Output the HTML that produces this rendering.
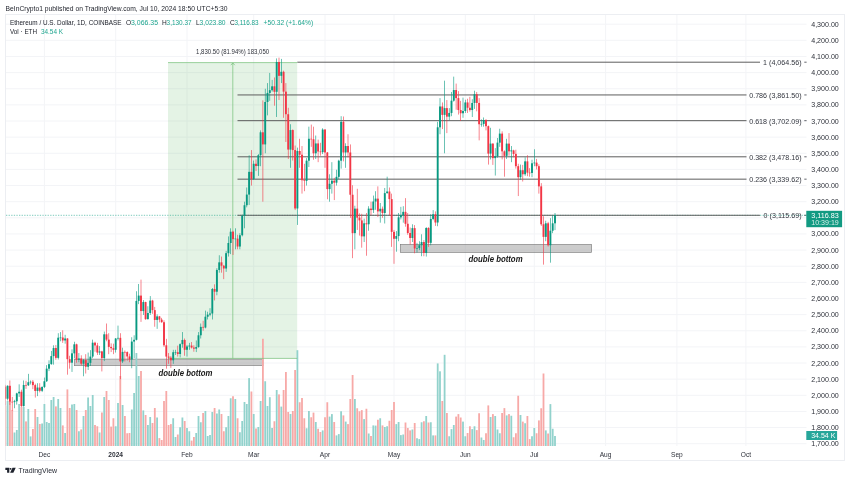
<!DOCTYPE html>
<html><head><meta charset="utf-8"><title>ETHUSD</title>
<style>
html,body{margin:0;padding:0;background:#fff;}
body{width:850px;height:480px;overflow:hidden;position:relative;font-family:"Liberation Sans",sans-serif;}
svg{position:absolute;left:0;top:0;will-change:transform;}
text{font-family:"Liberation Sans",sans-serif;}
</style></head><body>
<svg width="850" height="480" viewBox="0 0 850 480">

<rect x="5.5" y="14.5" width="839" height="446" fill="#fff" stroke="#eceef2" stroke-width="1"/>
<g stroke="#f3f4f7" stroke-width="1">
<line x1="6" y1="443.71" x2="806.5" y2="443.71"/>
<line x1="6" y1="427.57" x2="806.5" y2="427.57"/>
<line x1="6" y1="411.44" x2="806.5" y2="411.44"/>
<line x1="6" y1="395.30" x2="806.5" y2="395.30"/>
<line x1="6" y1="379.17" x2="806.5" y2="379.17"/>
<line x1="6" y1="363.03" x2="806.5" y2="363.03"/>
<line x1="6" y1="346.90" x2="806.5" y2="346.90"/>
<line x1="6" y1="330.76" x2="806.5" y2="330.76"/>
<line x1="6" y1="314.63" x2="806.5" y2="314.63"/>
<line x1="6" y1="298.50" x2="806.5" y2="298.50"/>
<line x1="6" y1="282.36" x2="806.5" y2="282.36"/>
<line x1="6" y1="266.22" x2="806.5" y2="266.22"/>
<line x1="6" y1="250.09" x2="806.5" y2="250.09"/>
<line x1="6" y1="233.95" x2="806.5" y2="233.95"/>
<line x1="6" y1="217.82" x2="806.5" y2="217.82"/>
<line x1="6" y1="201.68" x2="806.5" y2="201.68"/>
<line x1="6" y1="185.55" x2="806.5" y2="185.55"/>
<line x1="6" y1="169.41" x2="806.5" y2="169.41"/>
<line x1="6" y1="153.28" x2="806.5" y2="153.28"/>
<line x1="6" y1="137.14" x2="806.5" y2="137.14"/>
<line x1="6" y1="121.01" x2="806.5" y2="121.01"/>
<line x1="6" y1="104.88" x2="806.5" y2="104.88"/>
<line x1="6" y1="88.74" x2="806.5" y2="88.74"/>
<line x1="6" y1="72.61" x2="806.5" y2="72.61"/>
<line x1="6" y1="56.47" x2="806.5" y2="56.47"/>
<line x1="6" y1="40.33" x2="806.5" y2="40.33"/>
<line x1="6" y1="24.20" x2="806.5" y2="24.20"/>
<line x1="44.40" y1="15" x2="44.40" y2="446"/>
<line x1="115.70" y1="15" x2="115.70" y2="446"/>
<line x1="187.00" y1="15" x2="187.00" y2="446"/>
<line x1="253.70" y1="15" x2="253.70" y2="446"/>
<line x1="325.00" y1="15" x2="325.00" y2="446"/>
<line x1="394.00" y1="15" x2="394.00" y2="446"/>
<line x1="465.30" y1="15" x2="465.30" y2="446"/>
<line x1="534.30" y1="15" x2="534.30" y2="446"/>
<line x1="605.60" y1="15" x2="605.60" y2="446"/>
<line x1="676.90" y1="15" x2="676.90" y2="446"/>
<line x1="745.90" y1="15" x2="745.90" y2="446"/>
</g>
<rect x="168" y="62.6" width="129.2" height="295.8" fill="#4caf50" fill-opacity="0.15"/>
<rect x="74.3" y="359.1" width="188.7" height="6.6" fill="#9a9a9a" fill-opacity="0.5" stroke="#777" stroke-width="0.6"/>
<rect x="400.3" y="244.3" width="191.4" height="8.2" fill="#9a9a9a" fill-opacity="0.5" stroke="#777" stroke-width="0.6"/>
<clipPath id="cp"><rect x="5.5" y="15" width="838.5" height="431"/></clipPath>
<g clip-path="url(#cp)">
<rect x="4.40" y="406.00" width="1.8" height="40.00" fill="#f7a9a7"/>
<rect x="6.70" y="401.00" width="1.8" height="45.00" fill="#92d2cc"/>
<rect x="9.00" y="402.00" width="1.8" height="44.00" fill="#f7a9a7"/>
<rect x="11.30" y="410.00" width="1.8" height="36.00" fill="#f7a9a7"/>
<rect x="13.60" y="432.50" width="1.8" height="13.50" fill="#92d2cc"/>
<rect x="15.90" y="430.00" width="1.8" height="16.00" fill="#92d2cc"/>
<rect x="18.20" y="404.00" width="1.8" height="42.00" fill="#92d2cc"/>
<rect x="20.50" y="407.00" width="1.8" height="39.00" fill="#f7a9a7"/>
<rect x="22.80" y="407.00" width="1.8" height="39.00" fill="#92d2cc"/>
<rect x="25.10" y="421.40" width="1.8" height="24.60" fill="#f7a9a7"/>
<rect x="27.40" y="409.00" width="1.8" height="37.00" fill="#92d2cc"/>
<rect x="29.70" y="436.40" width="1.8" height="9.60" fill="#92d2cc"/>
<rect x="32.00" y="429.00" width="1.8" height="17.00" fill="#f7a9a7"/>
<rect x="34.30" y="409.00" width="1.8" height="37.00" fill="#f7a9a7"/>
<rect x="36.60" y="417.00" width="1.8" height="29.00" fill="#92d2cc"/>
<rect x="38.90" y="424.00" width="1.8" height="22.00" fill="#f7a9a7"/>
<rect x="41.20" y="423.50" width="1.8" height="22.50" fill="#92d2cc"/>
<rect x="43.50" y="404.00" width="1.8" height="42.00" fill="#92d2cc"/>
<rect x="45.80" y="422.00" width="1.8" height="24.00" fill="#92d2cc"/>
<rect x="48.10" y="423.00" width="1.8" height="23.00" fill="#92d2cc"/>
<rect x="50.40" y="400.00" width="1.8" height="46.00" fill="#92d2cc"/>
<rect x="52.70" y="397.00" width="1.8" height="49.00" fill="#92d2cc"/>
<rect x="55.00" y="406.40" width="1.8" height="39.60" fill="#f7a9a7"/>
<rect x="57.30" y="399.00" width="1.8" height="47.00" fill="#92d2cc"/>
<rect x="59.60" y="408.00" width="1.8" height="38.00" fill="#92d2cc"/>
<rect x="61.90" y="425.40" width="1.8" height="20.60" fill="#f7a9a7"/>
<rect x="64.20" y="433.00" width="1.8" height="13.00" fill="#92d2cc"/>
<rect x="66.50" y="389.40" width="1.8" height="56.60" fill="#f7a9a7"/>
<rect x="68.80" y="408.00" width="1.8" height="38.00" fill="#f7a9a7"/>
<rect x="71.10" y="404.50" width="1.8" height="41.50" fill="#92d2cc"/>
<rect x="73.40" y="404.00" width="1.8" height="42.00" fill="#92d2cc"/>
<rect x="75.70" y="410.00" width="1.8" height="36.00" fill="#f7a9a7"/>
<rect x="78.00" y="431.25" width="1.8" height="14.75" fill="#92d2cc"/>
<rect x="80.30" y="429.40" width="1.8" height="16.60" fill="#f7a9a7"/>
<rect x="82.60" y="416.00" width="1.8" height="30.00" fill="#92d2cc"/>
<rect x="84.90" y="410.00" width="1.8" height="36.00" fill="#f7a9a7"/>
<rect x="87.20" y="397.50" width="1.8" height="48.50" fill="#92d2cc"/>
<rect x="89.50" y="406.00" width="1.8" height="40.00" fill="#92d2cc"/>
<rect x="91.80" y="395.00" width="1.8" height="51.00" fill="#92d2cc"/>
<rect x="94.10" y="425.00" width="1.8" height="21.00" fill="#f7a9a7"/>
<rect x="96.40" y="426.25" width="1.8" height="19.75" fill="#f7a9a7"/>
<rect x="98.70" y="432.50" width="1.8" height="13.50" fill="#92d2cc"/>
<rect x="101.00" y="412.50" width="1.8" height="33.50" fill="#f7a9a7"/>
<rect x="103.30" y="397.00" width="1.8" height="49.00" fill="#92d2cc"/>
<rect x="105.60" y="391.00" width="1.8" height="55.00" fill="#f7a9a7"/>
<rect x="107.90" y="400.00" width="1.8" height="46.00" fill="#f7a9a7"/>
<rect x="110.20" y="426.60" width="1.8" height="19.40" fill="#f7a9a7"/>
<rect x="112.50" y="418.25" width="1.8" height="27.75" fill="#f7a9a7"/>
<rect x="114.80" y="426.25" width="1.8" height="19.75" fill="#92d2cc"/>
<rect x="117.10" y="403.00" width="1.8" height="43.00" fill="#92d2cc"/>
<rect x="119.40" y="376.00" width="1.8" height="70.00" fill="#f7a9a7"/>
<rect x="121.70" y="405.00" width="1.8" height="41.00" fill="#92d2cc"/>
<rect x="124.00" y="416.00" width="1.8" height="30.00" fill="#f7a9a7"/>
<rect x="126.30" y="433.25" width="1.8" height="12.75" fill="#f7a9a7"/>
<rect x="128.60" y="433.00" width="1.8" height="13.00" fill="#f7a9a7"/>
<rect x="130.90" y="409.50" width="1.8" height="36.50" fill="#92d2cc"/>
<rect x="133.20" y="393.00" width="1.8" height="53.00" fill="#92d2cc"/>
<rect x="135.50" y="353.00" width="1.8" height="93.00" fill="#92d2cc"/>
<rect x="137.80" y="376.00" width="1.8" height="70.00" fill="#92d2cc"/>
<rect x="140.10" y="371.00" width="1.8" height="75.00" fill="#f7a9a7"/>
<rect x="142.40" y="410.40" width="1.8" height="35.60" fill="#92d2cc"/>
<rect x="144.70" y="415.00" width="1.8" height="31.00" fill="#f7a9a7"/>
<rect x="147.00" y="425.00" width="1.8" height="21.00" fill="#92d2cc"/>
<rect x="149.30" y="417.00" width="1.8" height="29.00" fill="#92d2cc"/>
<rect x="151.60" y="423.00" width="1.8" height="23.00" fill="#f7a9a7"/>
<rect x="153.90" y="408.00" width="1.8" height="38.00" fill="#f7a9a7"/>
<rect x="156.20" y="417.50" width="1.8" height="28.50" fill="#92d2cc"/>
<rect x="158.50" y="438.10" width="1.8" height="7.90" fill="#f7a9a7"/>
<rect x="160.80" y="440.00" width="1.8" height="6.00" fill="#f7a9a7"/>
<rect x="163.10" y="401.00" width="1.8" height="45.00" fill="#f7a9a7"/>
<rect x="165.40" y="391.00" width="1.8" height="55.00" fill="#f7a9a7"/>
<rect x="167.70" y="425.00" width="1.8" height="21.00" fill="#f7a9a7"/>
<rect x="170.00" y="424.10" width="1.8" height="21.90" fill="#f7a9a7"/>
<rect x="172.30" y="418.25" width="1.8" height="27.75" fill="#92d2cc"/>
<rect x="174.60" y="437.00" width="1.8" height="9.00" fill="#92d2cc"/>
<rect x="176.90" y="434.50" width="1.8" height="11.50" fill="#f7a9a7"/>
<rect x="179.20" y="427.25" width="1.8" height="18.75" fill="#92d2cc"/>
<rect x="181.50" y="417.50" width="1.8" height="28.50" fill="#92d2cc"/>
<rect x="183.80" y="421.00" width="1.8" height="25.00" fill="#f7a9a7"/>
<rect x="186.10" y="428.00" width="1.8" height="18.00" fill="#92d2cc"/>
<rect x="188.40" y="431.25" width="1.8" height="14.75" fill="#92d2cc"/>
<rect x="190.70" y="440.60" width="1.8" height="5.40" fill="#f7a9a7"/>
<rect x="193.00" y="437.00" width="1.8" height="9.00" fill="#f7a9a7"/>
<rect x="195.30" y="433.00" width="1.8" height="13.00" fill="#92d2cc"/>
<rect x="197.60" y="416.00" width="1.8" height="30.00" fill="#92d2cc"/>
<rect x="199.90" y="422.25" width="1.8" height="23.75" fill="#92d2cc"/>
<rect x="202.20" y="413.00" width="1.8" height="33.00" fill="#f7a9a7"/>
<rect x="204.50" y="411.00" width="1.8" height="35.00" fill="#92d2cc"/>
<rect x="206.80" y="436.00" width="1.8" height="10.00" fill="#92d2cc"/>
<rect x="209.10" y="435.00" width="1.8" height="11.00" fill="#92d2cc"/>
<rect x="211.40" y="412.00" width="1.8" height="34.00" fill="#92d2cc"/>
<rect x="213.70" y="408.00" width="1.8" height="38.00" fill="#f7a9a7"/>
<rect x="216.00" y="413.50" width="1.8" height="32.50" fill="#92d2cc"/>
<rect x="218.30" y="409.50" width="1.8" height="36.50" fill="#92d2cc"/>
<rect x="220.60" y="414.00" width="1.8" height="32.00" fill="#f7a9a7"/>
<rect x="222.90" y="431.25" width="1.8" height="14.75" fill="#f7a9a7"/>
<rect x="225.20" y="427.25" width="1.8" height="18.75" fill="#92d2cc"/>
<rect x="227.50" y="416.00" width="1.8" height="30.00" fill="#92d2cc"/>
<rect x="229.80" y="398.25" width="1.8" height="47.75" fill="#92d2cc"/>
<rect x="232.10" y="396.25" width="1.8" height="49.75" fill="#f7a9a7"/>
<rect x="234.40" y="399.00" width="1.8" height="47.00" fill="#92d2cc"/>
<rect x="236.70" y="418.25" width="1.8" height="27.75" fill="#f7a9a7"/>
<rect x="239.00" y="432.25" width="1.8" height="13.75" fill="#92d2cc"/>
<rect x="241.30" y="421.00" width="1.8" height="25.00" fill="#92d2cc"/>
<rect x="243.60" y="402.00" width="1.8" height="44.00" fill="#92d2cc"/>
<rect x="245.90" y="404.00" width="1.8" height="42.00" fill="#92d2cc"/>
<rect x="248.20" y="378.10" width="1.8" height="67.90" fill="#92d2cc"/>
<rect x="250.50" y="391.50" width="1.8" height="54.50" fill="#f7a9a7"/>
<rect x="252.80" y="414.00" width="1.8" height="32.00" fill="#92d2cc"/>
<rect x="255.10" y="428.50" width="1.8" height="17.50" fill="#f7a9a7"/>
<rect x="257.40" y="427.00" width="1.8" height="19.00" fill="#92d2cc"/>
<rect x="259.70" y="401.00" width="1.8" height="45.00" fill="#92d2cc"/>
<rect x="262.00" y="338.75" width="1.8" height="107.25" fill="#f7a9a7"/>
<rect x="264.30" y="381.25" width="1.8" height="64.75" fill="#92d2cc"/>
<rect x="266.60" y="406.00" width="1.8" height="40.00" fill="#92d2cc"/>
<rect x="268.90" y="397.20" width="1.8" height="48.80" fill="#92d2cc"/>
<rect x="271.20" y="428.00" width="1.8" height="18.00" fill="#92d2cc"/>
<rect x="273.50" y="421.25" width="1.8" height="24.75" fill="#f7a9a7"/>
<rect x="275.80" y="390.00" width="1.8" height="56.00" fill="#92d2cc"/>
<rect x="278.10" y="394.40" width="1.8" height="51.60" fill="#f7a9a7"/>
<rect x="280.40" y="406.60" width="1.8" height="39.40" fill="#92d2cc"/>
<rect x="282.70" y="390.00" width="1.8" height="56.00" fill="#f7a9a7"/>
<rect x="285.00" y="372.00" width="1.8" height="74.00" fill="#f7a9a7"/>
<rect x="287.30" y="412.00" width="1.8" height="34.00" fill="#f7a9a7"/>
<rect x="289.60" y="414.00" width="1.8" height="32.00" fill="#92d2cc"/>
<rect x="291.90" y="411.00" width="1.8" height="35.00" fill="#f7a9a7"/>
<rect x="294.20" y="370.00" width="1.8" height="76.00" fill="#f7a9a7"/>
<rect x="296.50" y="350.20" width="1.8" height="95.80" fill="#92d2cc"/>
<rect x="298.80" y="402.25" width="1.8" height="43.75" fill="#f7a9a7"/>
<rect x="301.10" y="398.00" width="1.8" height="48.00" fill="#f7a9a7"/>
<rect x="303.40" y="418.25" width="1.8" height="27.75" fill="#f7a9a7"/>
<rect x="305.70" y="428.25" width="1.8" height="17.75" fill="#92d2cc"/>
<rect x="308.00" y="411.00" width="1.8" height="35.00" fill="#92d2cc"/>
<rect x="310.30" y="417.25" width="1.8" height="28.75" fill="#f7a9a7"/>
<rect x="312.60" y="412.60" width="1.8" height="33.40" fill="#f7a9a7"/>
<rect x="314.90" y="422.00" width="1.8" height="24.00" fill="#92d2cc"/>
<rect x="317.20" y="428.75" width="1.8" height="17.25" fill="#f7a9a7"/>
<rect x="319.50" y="432.00" width="1.8" height="14.00" fill="#f7a9a7"/>
<rect x="321.80" y="430.40" width="1.8" height="15.60" fill="#92d2cc"/>
<rect x="324.10" y="417.25" width="1.8" height="28.75" fill="#f7a9a7"/>
<rect x="326.40" y="402.25" width="1.8" height="43.75" fill="#f7a9a7"/>
<rect x="328.70" y="416.60" width="1.8" height="29.40" fill="#92d2cc"/>
<rect x="331.00" y="414.10" width="1.8" height="31.90" fill="#92d2cc"/>
<rect x="333.30" y="422.00" width="1.8" height="24.00" fill="#f7a9a7"/>
<rect x="335.60" y="435.40" width="1.8" height="10.60" fill="#92d2cc"/>
<rect x="337.90" y="434.10" width="1.8" height="11.90" fill="#92d2cc"/>
<rect x="340.20" y="411.25" width="1.8" height="34.75" fill="#92d2cc"/>
<rect x="342.50" y="415.40" width="1.8" height="30.60" fill="#f7a9a7"/>
<rect x="344.80" y="421.60" width="1.8" height="24.40" fill="#92d2cc"/>
<rect x="347.10" y="424.10" width="1.8" height="21.90" fill="#f7a9a7"/>
<rect x="349.40" y="399.00" width="1.8" height="47.00" fill="#f7a9a7"/>
<rect x="351.70" y="375.00" width="1.8" height="71.00" fill="#f7a9a7"/>
<rect x="354.00" y="399.00" width="1.8" height="47.00" fill="#92d2cc"/>
<rect x="356.30" y="408.25" width="1.8" height="37.75" fill="#f7a9a7"/>
<rect x="358.60" y="411.25" width="1.8" height="34.75" fill="#f7a9a7"/>
<rect x="360.90" y="410.10" width="1.8" height="35.90" fill="#f7a9a7"/>
<rect x="363.20" y="419.10" width="1.8" height="26.90" fill="#92d2cc"/>
<rect x="365.50" y="408.75" width="1.8" height="37.25" fill="#f7a9a7"/>
<rect x="367.80" y="433.50" width="1.8" height="12.50" fill="#92d2cc"/>
<rect x="370.10" y="436.00" width="1.8" height="10.00" fill="#f7a9a7"/>
<rect x="372.40" y="425.40" width="1.8" height="20.60" fill="#92d2cc"/>
<rect x="374.70" y="425.60" width="1.8" height="20.40" fill="#92d2cc"/>
<rect x="377.00" y="419.75" width="1.8" height="26.25" fill="#f7a9a7"/>
<rect x="379.30" y="418.25" width="1.8" height="27.75" fill="#92d2cc"/>
<rect x="381.60" y="425.40" width="1.8" height="20.60" fill="#f7a9a7"/>
<rect x="383.90" y="427.00" width="1.8" height="19.00" fill="#92d2cc"/>
<rect x="386.20" y="426.25" width="1.8" height="19.75" fill="#92d2cc"/>
<rect x="388.50" y="420.75" width="1.8" height="25.25" fill="#f7a9a7"/>
<rect x="390.80" y="410.00" width="1.8" height="36.00" fill="#f7a9a7"/>
<rect x="393.10" y="402.00" width="1.8" height="44.00" fill="#f7a9a7"/>
<rect x="395.40" y="424.10" width="1.8" height="21.90" fill="#92d2cc"/>
<rect x="397.70" y="422.00" width="1.8" height="24.00" fill="#92d2cc"/>
<rect x="400.00" y="435.10" width="1.8" height="10.90" fill="#92d2cc"/>
<rect x="402.30" y="434.50" width="1.8" height="11.50" fill="#92d2cc"/>
<rect x="404.60" y="422.50" width="1.8" height="23.50" fill="#f7a9a7"/>
<rect x="406.90" y="428.00" width="1.8" height="18.00" fill="#f7a9a7"/>
<rect x="409.20" y="430.40" width="1.8" height="15.60" fill="#f7a9a7"/>
<rect x="411.50" y="429.50" width="1.8" height="16.50" fill="#92d2cc"/>
<rect x="413.80" y="423.00" width="1.8" height="23.00" fill="#f7a9a7"/>
<rect x="416.10" y="438.25" width="1.8" height="7.75" fill="#92d2cc"/>
<rect x="418.40" y="439.10" width="1.8" height="6.90" fill="#92d2cc"/>
<rect x="420.70" y="422.25" width="1.8" height="23.75" fill="#92d2cc"/>
<rect x="423.00" y="421.25" width="1.8" height="24.75" fill="#f7a9a7"/>
<rect x="425.30" y="416.00" width="1.8" height="30.00" fill="#92d2cc"/>
<rect x="427.60" y="422.50" width="1.8" height="23.50" fill="#f7a9a7"/>
<rect x="429.90" y="422.25" width="1.8" height="23.75" fill="#92d2cc"/>
<rect x="432.20" y="435.40" width="1.8" height="10.60" fill="#92d2cc"/>
<rect x="434.50" y="435.40" width="1.8" height="10.60" fill="#f7a9a7"/>
<rect x="436.80" y="363.40" width="1.8" height="82.60" fill="#92d2cc"/>
<rect x="439.10" y="371.30" width="1.8" height="74.70" fill="#92d2cc"/>
<rect x="441.40" y="401.00" width="1.8" height="45.00" fill="#f7a9a7"/>
<rect x="443.70" y="354.80" width="1.8" height="91.20" fill="#92d2cc"/>
<rect x="446.00" y="413.00" width="1.8" height="33.00" fill="#f7a9a7"/>
<rect x="448.30" y="436.25" width="1.8" height="9.75" fill="#92d2cc"/>
<rect x="450.60" y="429.10" width="1.8" height="16.90" fill="#92d2cc"/>
<rect x="452.90" y="425.00" width="1.8" height="21.00" fill="#92d2cc"/>
<rect x="455.20" y="416.60" width="1.8" height="29.40" fill="#f7a9a7"/>
<rect x="457.50" y="414.10" width="1.8" height="31.90" fill="#f7a9a7"/>
<rect x="459.80" y="417.50" width="1.8" height="28.50" fill="#f7a9a7"/>
<rect x="462.10" y="421.60" width="1.8" height="24.40" fill="#92d2cc"/>
<rect x="464.40" y="436.25" width="1.8" height="9.75" fill="#92d2cc"/>
<rect x="466.70" y="433.00" width="1.8" height="13.00" fill="#f7a9a7"/>
<rect x="469.00" y="426.25" width="1.8" height="19.75" fill="#f7a9a7"/>
<rect x="471.30" y="429.10" width="1.8" height="16.90" fill="#92d2cc"/>
<rect x="473.60" y="426.25" width="1.8" height="19.75" fill="#92d2cc"/>
<rect x="475.90" y="430.10" width="1.8" height="15.90" fill="#f7a9a7"/>
<rect x="478.20" y="413.25" width="1.8" height="32.75" fill="#f7a9a7"/>
<rect x="480.50" y="437.50" width="1.8" height="8.50" fill="#92d2cc"/>
<rect x="482.80" y="440.00" width="1.8" height="6.00" fill="#92d2cc"/>
<rect x="485.10" y="433.25" width="1.8" height="12.75" fill="#f7a9a7"/>
<rect x="487.40" y="405.40" width="1.8" height="40.60" fill="#f7a9a7"/>
<rect x="489.70" y="417.00" width="1.8" height="29.00" fill="#92d2cc"/>
<rect x="492.00" y="414.10" width="1.8" height="31.90" fill="#f7a9a7"/>
<rect x="494.30" y="416.00" width="1.8" height="30.00" fill="#92d2cc"/>
<rect x="496.60" y="429.50" width="1.8" height="16.50" fill="#92d2cc"/>
<rect x="498.90" y="433.25" width="1.8" height="12.75" fill="#92d2cc"/>
<rect x="501.20" y="413.00" width="1.8" height="33.00" fill="#f7a9a7"/>
<rect x="503.50" y="408.10" width="1.8" height="37.90" fill="#f7a9a7"/>
<rect x="505.80" y="415.40" width="1.8" height="30.60" fill="#92d2cc"/>
<rect x="508.10" y="414.10" width="1.8" height="31.90" fill="#f7a9a7"/>
<rect x="510.40" y="415.75" width="1.8" height="30.25" fill="#92d2cc"/>
<rect x="512.70" y="437.25" width="1.8" height="8.75" fill="#f7a9a7"/>
<rect x="515.00" y="433.25" width="1.8" height="12.75" fill="#f7a9a7"/>
<rect x="517.30" y="395.75" width="1.8" height="50.25" fill="#f7a9a7"/>
<rect x="519.60" y="415.00" width="1.8" height="31.00" fill="#92d2cc"/>
<rect x="521.90" y="421.60" width="1.8" height="24.40" fill="#f7a9a7"/>
<rect x="524.20" y="423.25" width="1.8" height="22.75" fill="#92d2cc"/>
<rect x="526.50" y="416.00" width="1.8" height="30.00" fill="#f7a9a7"/>
<rect x="528.80" y="439.10" width="1.8" height="6.90" fill="#f7a9a7"/>
<rect x="531.10" y="436.25" width="1.8" height="9.75" fill="#92d2cc"/>
<rect x="533.40" y="428.00" width="1.8" height="18.00" fill="#92d2cc"/>
<rect x="535.70" y="433.25" width="1.8" height="12.75" fill="#f7a9a7"/>
<rect x="538.00" y="420.40" width="1.8" height="25.60" fill="#f7a9a7"/>
<rect x="540.30" y="408.25" width="1.8" height="37.75" fill="#f7a9a7"/>
<rect x="542.60" y="373.50" width="1.8" height="72.50" fill="#f7a9a7"/>
<rect x="544.90" y="430.40" width="1.8" height="15.60" fill="#92d2cc"/>
<rect x="547.20" y="433.50" width="1.8" height="12.50" fill="#f7a9a7"/>
<rect x="549.50" y="404.10" width="1.8" height="41.90" fill="#92d2cc"/>
<rect x="551.80" y="428.75" width="1.8" height="17.25" fill="#92d2cc"/>
<rect x="554.10" y="436.00" width="1.8" height="10.00" fill="#92d2cc"/>
</g>
<line x1="6" y1="215.30" x2="806" y2="215.30" stroke="#089981" stroke-width="0.7" stroke-dasharray="1.3 1.3" stroke-opacity="0.75"/>
<g stroke="#5d5d5d" stroke-width="1">
<line x1="297.3" y1="62.19" x2="760" y2="62.19"/>
<line x1="237.5" y1="94.95" x2="746.5" y2="94.95"/>
<line x1="237.5" y1="120.67" x2="746.5" y2="120.67"/>
<line x1="237.5" y1="156.80" x2="746.5" y2="156.80"/>
<line x1="237.5" y1="179.16" x2="746.5" y2="179.16"/>
<line x1="237.5" y1="215.29" x2="760" y2="215.29"/>
</g>
<g stroke="#74c077" stroke-width="0.7" fill="none">
<line x1="168" y1="62.6" x2="297.2" y2="62.6"/>
<line x1="168" y1="358.4" x2="297.2" y2="358.4"/>
<line x1="232.8" y1="63" x2="232.8" y2="358.4"/>
<polyline points="230.8,65.2 232.8,62.9 234.8,65.2"/>
</g>
<g clip-path="url(#cp)">
<rect x="5.00" y="384.82" width="0.6" height="20.81" fill="#f23645"/>
<rect x="4.35" y="386.59" width="1.9" height="12.10" fill="#f23645"/>
<rect x="7.30" y="385.30" width="0.6" height="15.17" fill="#089981"/>
<rect x="6.65" y="385.79" width="1.9" height="12.91" fill="#089981"/>
<rect x="9.60" y="380.46" width="0.6" height="24.53" fill="#f23645"/>
<rect x="8.95" y="385.79" width="1.9" height="15.97" fill="#f23645"/>
<rect x="11.90" y="396.92" width="0.6" height="13.71" fill="#f23645"/>
<rect x="11.25" y="401.76" width="1.9" height="0.60" fill="#f23645"/>
<rect x="14.20" y="399.82" width="0.6" height="8.39" fill="#089981"/>
<rect x="13.55" y="401.27" width="1.9" height="0.81" fill="#089981"/>
<rect x="16.50" y="392.72" width="0.6" height="11.94" fill="#089981"/>
<rect x="15.85" y="393.37" width="1.9" height="7.91" fill="#089981"/>
<rect x="18.80" y="384.33" width="0.6" height="12.59" fill="#089981"/>
<rect x="18.15" y="391.76" width="1.9" height="1.61" fill="#089981"/>
<rect x="21.10" y="389.66" width="0.6" height="17.26" fill="#f23645"/>
<rect x="20.45" y="391.76" width="1.9" height="14.36" fill="#f23645"/>
<rect x="23.40" y="380.46" width="0.6" height="26.14" fill="#089981"/>
<rect x="22.75" y="384.98" width="1.9" height="21.14" fill="#089981"/>
<rect x="25.70" y="380.78" width="0.6" height="8.07" fill="#f23645"/>
<rect x="25.05" y="384.98" width="1.9" height="0.60" fill="#f23645"/>
<rect x="28.00" y="373.85" width="0.6" height="12.10" fill="#089981"/>
<rect x="27.35" y="382.24" width="1.9" height="3.07" fill="#089981"/>
<rect x="30.30" y="380.46" width="0.6" height="4.03" fill="#089981"/>
<rect x="29.65" y="381.75" width="1.9" height="0.60" fill="#089981"/>
<rect x="32.60" y="379.98" width="0.6" height="9.20" fill="#f23645"/>
<rect x="31.95" y="381.75" width="1.9" height="3.39" fill="#f23645"/>
<rect x="34.90" y="383.69" width="0.6" height="13.88" fill="#f23645"/>
<rect x="34.25" y="385.14" width="1.9" height="5.81" fill="#f23645"/>
<rect x="37.20" y="383.20" width="0.6" height="12.91" fill="#089981"/>
<rect x="36.55" y="387.56" width="1.9" height="3.39" fill="#089981"/>
<rect x="39.50" y="383.20" width="0.6" height="9.20" fill="#f23645"/>
<rect x="38.85" y="387.56" width="1.9" height="3.23" fill="#f23645"/>
<rect x="41.80" y="386.43" width="0.6" height="5.65" fill="#089981"/>
<rect x="41.15" y="386.91" width="1.9" height="3.87" fill="#089981"/>
<rect x="44.10" y="377.56" width="0.6" height="10.49" fill="#089981"/>
<rect x="43.45" y="381.27" width="1.9" height="5.65" fill="#089981"/>
<rect x="46.40" y="365.13" width="0.6" height="16.78" fill="#089981"/>
<rect x="45.75" y="368.68" width="1.9" height="12.59" fill="#089981"/>
<rect x="48.70" y="360.29" width="0.6" height="10.81" fill="#089981"/>
<rect x="48.05" y="364.16" width="1.9" height="4.52" fill="#089981"/>
<rect x="51.00" y="350.93" width="0.6" height="13.71" fill="#089981"/>
<rect x="50.35" y="356.10" width="1.9" height="8.07" fill="#089981"/>
<rect x="53.30" y="345.29" width="0.6" height="19.36" fill="#089981"/>
<rect x="52.65" y="348.03" width="1.9" height="8.07" fill="#089981"/>
<rect x="55.60" y="344.96" width="0.6" height="14.84" fill="#f23645"/>
<rect x="54.95" y="348.03" width="1.9" height="9.84" fill="#f23645"/>
<rect x="57.90" y="333.19" width="0.6" height="26.30" fill="#089981"/>
<rect x="57.25" y="337.70" width="1.9" height="20.17" fill="#089981"/>
<rect x="60.20" y="332.06" width="0.6" height="9.20" fill="#089981"/>
<rect x="59.55" y="337.54" width="1.9" height="0.60" fill="#089981"/>
<rect x="62.50" y="330.28" width="0.6" height="12.59" fill="#f23645"/>
<rect x="61.85" y="337.54" width="1.9" height="2.90" fill="#f23645"/>
<rect x="64.80" y="334.80" width="0.6" height="8.87" fill="#089981"/>
<rect x="64.15" y="338.51" width="1.9" height="1.94" fill="#089981"/>
<rect x="67.10" y="338.03" width="0.6" height="36.63" fill="#f23645"/>
<rect x="66.45" y="338.51" width="1.9" height="20.65" fill="#f23645"/>
<rect x="69.40" y="355.77" width="0.6" height="12.91" fill="#f23645"/>
<rect x="68.75" y="359.16" width="1.9" height="3.55" fill="#f23645"/>
<rect x="71.70" y="349.32" width="0.6" height="22.59" fill="#089981"/>
<rect x="71.05" y="353.35" width="1.9" height="9.36" fill="#089981"/>
<rect x="74.00" y="341.74" width="0.6" height="16.46" fill="#089981"/>
<rect x="73.35" y="344.32" width="1.9" height="9.04" fill="#089981"/>
<rect x="76.30" y="343.67" width="0.6" height="19.04" fill="#f23645"/>
<rect x="75.65" y="344.32" width="1.9" height="15.49" fill="#f23645"/>
<rect x="78.60" y="353.03" width="0.6" height="9.20" fill="#089981"/>
<rect x="77.95" y="358.52" width="1.9" height="1.29" fill="#089981"/>
<rect x="80.90" y="355.29" width="0.6" height="10.17" fill="#f23645"/>
<rect x="80.25" y="358.52" width="1.9" height="5.16" fill="#f23645"/>
<rect x="83.20" y="359.00" width="0.6" height="17.26" fill="#089981"/>
<rect x="82.55" y="360.13" width="1.9" height="3.55" fill="#089981"/>
<rect x="85.50" y="354.16" width="0.6" height="19.36" fill="#f23645"/>
<rect x="84.85" y="360.13" width="1.9" height="6.62" fill="#f23645"/>
<rect x="87.80" y="352.55" width="0.6" height="17.43" fill="#089981"/>
<rect x="87.15" y="362.87" width="1.9" height="3.87" fill="#089981"/>
<rect x="90.10" y="350.13" width="0.6" height="15.81" fill="#089981"/>
<rect x="89.45" y="356.58" width="1.9" height="6.29" fill="#089981"/>
<rect x="92.40" y="339.64" width="0.6" height="18.56" fill="#089981"/>
<rect x="91.75" y="342.70" width="1.9" height="13.88" fill="#089981"/>
<rect x="94.70" y="341.74" width="0.6" height="10.00" fill="#f23645"/>
<rect x="94.05" y="342.70" width="1.9" height="2.74" fill="#f23645"/>
<rect x="97.00" y="342.87" width="0.6" height="12.10" fill="#f23645"/>
<rect x="96.35" y="345.45" width="1.9" height="7.10" fill="#f23645"/>
<rect x="99.30" y="346.09" width="0.6" height="8.87" fill="#089981"/>
<rect x="98.65" y="351.42" width="1.9" height="1.13" fill="#089981"/>
<rect x="101.60" y="350.77" width="0.6" height="20.65" fill="#f23645"/>
<rect x="100.95" y="351.42" width="1.9" height="6.62" fill="#f23645"/>
<rect x="103.90" y="331.57" width="0.6" height="29.53" fill="#089981"/>
<rect x="103.25" y="334.31" width="1.9" height="23.72" fill="#089981"/>
<rect x="106.20" y="323.50" width="0.6" height="17.75" fill="#f23645"/>
<rect x="105.55" y="334.31" width="1.9" height="5.32" fill="#f23645"/>
<rect x="108.50" y="333.19" width="0.6" height="20.98" fill="#f23645"/>
<rect x="107.85" y="339.64" width="1.9" height="7.26" fill="#f23645"/>
<rect x="110.80" y="343.35" width="0.6" height="8.71" fill="#f23645"/>
<rect x="110.15" y="346.90" width="1.9" height="1.29" fill="#f23645"/>
<rect x="113.10" y="343.67" width="0.6" height="10.49" fill="#f23645"/>
<rect x="112.45" y="348.19" width="1.9" height="1.61" fill="#f23645"/>
<rect x="115.40" y="338.03" width="0.6" height="14.52" fill="#089981"/>
<rect x="114.75" y="338.51" width="1.9" height="11.29" fill="#089981"/>
<rect x="117.70" y="325.60" width="0.6" height="14.84" fill="#089981"/>
<rect x="117.05" y="337.86" width="1.9" height="0.65" fill="#089981"/>
<rect x="120.00" y="333.19" width="0.6" height="45.98" fill="#f23645"/>
<rect x="119.35" y="337.86" width="1.9" height="23.56" fill="#f23645"/>
<rect x="122.30" y="347.71" width="0.6" height="15.33" fill="#089981"/>
<rect x="121.65" y="351.90" width="1.9" height="9.52" fill="#089981"/>
<rect x="124.60" y="350.45" width="0.6" height="10.97" fill="#f23645"/>
<rect x="123.95" y="351.90" width="1.9" height="0.60" fill="#f23645"/>
<rect x="126.90" y="351.42" width="0.6" height="9.20" fill="#f23645"/>
<rect x="126.25" y="352.06" width="1.9" height="4.36" fill="#f23645"/>
<rect x="129.20" y="353.68" width="0.6" height="8.55" fill="#f23645"/>
<rect x="128.55" y="356.42" width="1.9" height="3.07" fill="#f23645"/>
<rect x="131.50" y="337.22" width="0.6" height="30.98" fill="#089981"/>
<rect x="130.85" y="341.58" width="1.9" height="17.91" fill="#089981"/>
<rect x="133.80" y="335.28" width="0.6" height="22.91" fill="#089981"/>
<rect x="133.15" y="339.80" width="1.9" height="1.77" fill="#089981"/>
<rect x="136.10" y="291.23" width="0.6" height="49.21" fill="#089981"/>
<rect x="135.45" y="300.92" width="1.9" height="38.89" fill="#089981"/>
<rect x="138.40" y="283.97" width="0.6" height="20.17" fill="#089981"/>
<rect x="137.75" y="295.59" width="1.9" height="5.32" fill="#089981"/>
<rect x="140.70" y="279.62" width="0.6" height="42.27" fill="#f23645"/>
<rect x="140.05" y="295.59" width="1.9" height="15.49" fill="#f23645"/>
<rect x="143.00" y="300.11" width="0.6" height="14.84" fill="#089981"/>
<rect x="142.35" y="302.04" width="1.9" height="9.04" fill="#089981"/>
<rect x="145.30" y="301.72" width="0.6" height="18.07" fill="#f23645"/>
<rect x="144.65" y="302.04" width="1.9" height="17.10" fill="#f23645"/>
<rect x="147.60" y="306.24" width="0.6" height="13.23" fill="#089981"/>
<rect x="146.95" y="313.02" width="1.9" height="6.13" fill="#089981"/>
<rect x="149.90" y="296.07" width="0.6" height="18.88" fill="#089981"/>
<rect x="149.25" y="300.59" width="1.9" height="12.42" fill="#089981"/>
<rect x="152.20" y="299.79" width="0.6" height="14.04" fill="#f23645"/>
<rect x="151.55" y="300.59" width="1.9" height="9.52" fill="#f23645"/>
<rect x="154.50" y="306.89" width="0.6" height="19.85" fill="#f23645"/>
<rect x="153.85" y="310.11" width="1.9" height="9.84" fill="#f23645"/>
<rect x="156.80" y="314.31" width="0.6" height="14.52" fill="#089981"/>
<rect x="156.15" y="316.40" width="1.9" height="3.55" fill="#089981"/>
<rect x="159.10" y="315.92" width="0.6" height="6.45" fill="#f23645"/>
<rect x="158.45" y="316.40" width="1.9" height="3.23" fill="#f23645"/>
<rect x="161.40" y="317.86" width="0.6" height="4.84" fill="#f23645"/>
<rect x="160.75" y="319.63" width="1.9" height="2.58" fill="#f23645"/>
<rect x="163.70" y="320.28" width="0.6" height="26.62" fill="#f23645"/>
<rect x="163.05" y="322.21" width="1.9" height="23.07" fill="#f23645"/>
<rect x="166.00" y="338.83" width="0.6" height="29.85" fill="#f23645"/>
<rect x="165.35" y="345.29" width="1.9" height="11.29" fill="#f23645"/>
<rect x="168.30" y="353.03" width="0.6" height="10.81" fill="#f23645"/>
<rect x="167.65" y="356.58" width="1.9" height="1.13" fill="#f23645"/>
<rect x="170.60" y="356.10" width="0.6" height="11.78" fill="#f23645"/>
<rect x="169.95" y="357.71" width="1.9" height="2.58" fill="#f23645"/>
<rect x="172.90" y="349.80" width="0.6" height="14.04" fill="#089981"/>
<rect x="172.25" y="352.22" width="1.9" height="8.07" fill="#089981"/>
<rect x="175.20" y="349.80" width="0.6" height="5.16" fill="#089981"/>
<rect x="174.55" y="352.22" width="1.9" height="0.60" fill="#089981"/>
<rect x="177.50" y="345.61" width="0.6" height="10.97" fill="#f23645"/>
<rect x="176.85" y="352.22" width="1.9" height="1.77" fill="#f23645"/>
<rect x="179.80" y="343.35" width="0.6" height="14.04" fill="#089981"/>
<rect x="179.15" y="344.16" width="1.9" height="9.84" fill="#089981"/>
<rect x="182.10" y="332.06" width="0.6" height="15.65" fill="#089981"/>
<rect x="181.45" y="339.96" width="1.9" height="4.20" fill="#089981"/>
<rect x="184.40" y="338.51" width="0.6" height="17.26" fill="#f23645"/>
<rect x="183.75" y="339.96" width="1.9" height="9.84" fill="#f23645"/>
<rect x="186.70" y="344.96" width="0.6" height="11.62" fill="#089981"/>
<rect x="186.05" y="346.42" width="1.9" height="3.39" fill="#089981"/>
<rect x="189.00" y="342.87" width="0.6" height="6.94" fill="#089981"/>
<rect x="188.35" y="345.61" width="1.9" height="0.81" fill="#089981"/>
<rect x="191.30" y="342.06" width="0.6" height="6.45" fill="#f23645"/>
<rect x="190.65" y="345.61" width="1.9" height="1.94" fill="#f23645"/>
<rect x="193.60" y="345.29" width="0.6" height="6.45" fill="#f23645"/>
<rect x="192.95" y="347.55" width="1.9" height="1.13" fill="#f23645"/>
<rect x="195.90" y="340.45" width="0.6" height="11.62" fill="#089981"/>
<rect x="195.25" y="347.06" width="1.9" height="1.61" fill="#089981"/>
<rect x="198.20" y="332.06" width="0.6" height="15.65" fill="#089981"/>
<rect x="197.55" y="335.28" width="1.9" height="11.78" fill="#089981"/>
<rect x="200.50" y="323.50" width="0.6" height="15.01" fill="#089981"/>
<rect x="199.85" y="326.89" width="1.9" height="8.39" fill="#089981"/>
<rect x="202.80" y="320.76" width="0.6" height="10.00" fill="#f23645"/>
<rect x="202.15" y="326.89" width="1.9" height="0.65" fill="#f23645"/>
<rect x="205.10" y="310.60" width="0.6" height="17.75" fill="#089981"/>
<rect x="204.45" y="316.73" width="1.9" height="10.81" fill="#089981"/>
<rect x="207.40" y="311.73" width="0.6" height="7.74" fill="#089981"/>
<rect x="206.75" y="314.63" width="1.9" height="2.10" fill="#089981"/>
<rect x="209.70" y="308.18" width="0.6" height="8.07" fill="#089981"/>
<rect x="209.05" y="313.50" width="1.9" height="1.13" fill="#089981"/>
<rect x="212.00" y="288.01" width="0.6" height="31.46" fill="#089981"/>
<rect x="211.35" y="288.98" width="1.9" height="24.53" fill="#089981"/>
<rect x="214.30" y="284.30" width="0.6" height="16.13" fill="#f23645"/>
<rect x="213.65" y="288.98" width="1.9" height="2.74" fill="#f23645"/>
<rect x="216.60" y="268.16" width="0.6" height="27.11" fill="#089981"/>
<rect x="215.95" y="269.94" width="1.9" height="21.78" fill="#089981"/>
<rect x="218.90" y="255.25" width="0.6" height="17.43" fill="#089981"/>
<rect x="218.25" y="262.35" width="1.9" height="7.58" fill="#089981"/>
<rect x="221.20" y="256.54" width="0.6" height="16.13" fill="#f23645"/>
<rect x="220.55" y="262.35" width="1.9" height="3.39" fill="#f23645"/>
<rect x="223.50" y="264.93" width="0.6" height="14.20" fill="#f23645"/>
<rect x="222.85" y="265.74" width="1.9" height="2.74" fill="#f23645"/>
<rect x="225.80" y="250.90" width="0.6" height="20.98" fill="#089981"/>
<rect x="225.15" y="253.16" width="1.9" height="15.33" fill="#089981"/>
<rect x="228.10" y="236.38" width="0.6" height="20.17" fill="#089981"/>
<rect x="227.45" y="242.99" width="1.9" height="10.17" fill="#089981"/>
<rect x="230.40" y="228.31" width="0.6" height="25.82" fill="#089981"/>
<rect x="229.75" y="231.70" width="1.9" height="11.29" fill="#089981"/>
<rect x="232.70" y="230.73" width="0.6" height="24.20" fill="#f23645"/>
<rect x="232.05" y="231.70" width="1.9" height="7.42" fill="#f23645"/>
<rect x="235.00" y="228.31" width="0.6" height="20.98" fill="#089981"/>
<rect x="234.35" y="238.63" width="1.9" height="0.60" fill="#089981"/>
<rect x="237.30" y="234.76" width="0.6" height="14.52" fill="#f23645"/>
<rect x="236.65" y="238.63" width="1.9" height="7.91" fill="#f23645"/>
<rect x="239.60" y="233.15" width="0.6" height="16.13" fill="#089981"/>
<rect x="238.95" y="235.25" width="1.9" height="11.29" fill="#089981"/>
<rect x="241.90" y="214.59" width="0.6" height="21.78" fill="#089981"/>
<rect x="241.25" y="215.72" width="1.9" height="19.52" fill="#089981"/>
<rect x="244.20" y="201.68" width="0.6" height="26.62" fill="#089981"/>
<rect x="243.55" y="205.23" width="1.9" height="10.49" fill="#089981"/>
<rect x="246.50" y="187.49" width="0.6" height="19.85" fill="#089981"/>
<rect x="245.85" y="194.59" width="1.9" height="10.65" fill="#089981"/>
<rect x="248.80" y="155.22" width="0.6" height="49.70" fill="#089981"/>
<rect x="248.15" y="171.84" width="1.9" height="22.75" fill="#089981"/>
<rect x="251.10" y="150.05" width="0.6" height="35.50" fill="#f23645"/>
<rect x="250.45" y="171.84" width="1.9" height="7.10" fill="#f23645"/>
<rect x="253.40" y="160.54" width="0.6" height="19.36" fill="#089981"/>
<rect x="252.75" y="163.77" width="1.9" height="15.17" fill="#089981"/>
<rect x="255.70" y="159.41" width="0.6" height="11.62" fill="#f23645"/>
<rect x="255.05" y="163.77" width="1.9" height="2.26" fill="#f23645"/>
<rect x="258.00" y="154.09" width="0.6" height="21.78" fill="#089981"/>
<rect x="257.35" y="155.22" width="1.9" height="10.81" fill="#089981"/>
<rect x="260.30" y="130.37" width="0.6" height="35.82" fill="#089981"/>
<rect x="259.65" y="132.30" width="1.9" height="22.91" fill="#089981"/>
<rect x="262.60" y="100.36" width="0.6" height="101.33" fill="#f23645"/>
<rect x="261.95" y="132.30" width="1.9" height="12.10" fill="#f23645"/>
<rect x="264.90" y="88.74" width="0.6" height="64.54" fill="#089981"/>
<rect x="264.25" y="101.97" width="1.9" height="42.44" fill="#089981"/>
<rect x="267.20" y="83.09" width="0.6" height="32.27" fill="#089981"/>
<rect x="266.55" y="92.94" width="1.9" height="9.04" fill="#089981"/>
<rect x="269.50" y="72.93" width="0.6" height="27.91" fill="#089981"/>
<rect x="268.85" y="90.19" width="1.9" height="2.74" fill="#089981"/>
<rect x="271.80" y="79.87" width="0.6" height="11.78" fill="#089981"/>
<rect x="271.15" y="86.32" width="1.9" height="3.87" fill="#089981"/>
<rect x="274.10" y="77.45" width="0.6" height="28.24" fill="#f23645"/>
<rect x="273.45" y="86.32" width="1.9" height="5.49" fill="#f23645"/>
<rect x="276.40" y="58.41" width="0.6" height="58.57" fill="#089981"/>
<rect x="275.75" y="61.96" width="1.9" height="29.85" fill="#089981"/>
<rect x="278.70" y="57.60" width="0.6" height="42.44" fill="#f23645"/>
<rect x="278.05" y="61.96" width="1.9" height="13.88" fill="#f23645"/>
<rect x="281.00" y="58.89" width="0.6" height="24.20" fill="#089981"/>
<rect x="280.35" y="71.80" width="1.9" height="4.03" fill="#089981"/>
<rect x="283.30" y="70.67" width="0.6" height="47.11" fill="#f23645"/>
<rect x="282.65" y="71.80" width="1.9" height="19.85" fill="#f23645"/>
<rect x="285.60" y="83.09" width="0.6" height="58.89" fill="#f23645"/>
<rect x="284.95" y="91.64" width="1.9" height="22.59" fill="#f23645"/>
<rect x="287.90" y="107.78" width="0.6" height="51.15" fill="#f23645"/>
<rect x="287.25" y="114.23" width="1.9" height="35.34" fill="#f23645"/>
<rect x="290.20" y="124.24" width="0.6" height="43.56" fill="#089981"/>
<rect x="289.55" y="130.05" width="1.9" height="19.52" fill="#089981"/>
<rect x="292.50" y="129.40" width="0.6" height="31.14" fill="#f23645"/>
<rect x="291.85" y="130.05" width="1.9" height="20.01" fill="#f23645"/>
<rect x="294.80" y="145.54" width="0.6" height="64.54" fill="#f23645"/>
<rect x="294.15" y="150.05" width="1.9" height="58.41" fill="#f23645"/>
<rect x="297.10" y="147.63" width="0.6" height="77.29" fill="#089981"/>
<rect x="296.45" y="151.02" width="1.9" height="57.44" fill="#089981"/>
<rect x="299.40" y="138.76" width="0.6" height="29.04" fill="#f23645"/>
<rect x="298.75" y="151.02" width="1.9" height="3.71" fill="#f23645"/>
<rect x="301.70" y="146.02" width="0.6" height="47.60" fill="#f23645"/>
<rect x="301.05" y="154.73" width="1.9" height="25.49" fill="#f23645"/>
<rect x="304.00" y="163.77" width="0.6" height="27.43" fill="#f23645"/>
<rect x="303.35" y="180.23" width="1.9" height="0.65" fill="#f23645"/>
<rect x="306.30" y="158.12" width="0.6" height="27.43" fill="#089981"/>
<rect x="305.65" y="160.70" width="1.9" height="20.17" fill="#089981"/>
<rect x="308.60" y="126.66" width="0.6" height="40.34" fill="#089981"/>
<rect x="307.95" y="138.76" width="1.9" height="21.94" fill="#089981"/>
<rect x="310.90" y="124.56" width="0.6" height="22.27" fill="#f23645"/>
<rect x="310.25" y="138.76" width="1.9" height="0.60" fill="#f23645"/>
<rect x="313.20" y="126.66" width="0.6" height="33.08" fill="#f23645"/>
<rect x="312.55" y="139.24" width="1.9" height="14.04" fill="#f23645"/>
<rect x="315.50" y="135.53" width="0.6" height="23.40" fill="#089981"/>
<rect x="314.85" y="143.44" width="1.9" height="9.84" fill="#089981"/>
<rect x="317.80" y="139.57" width="0.6" height="22.59" fill="#f23645"/>
<rect x="317.15" y="143.44" width="1.9" height="8.07" fill="#f23645"/>
<rect x="320.10" y="142.79" width="0.6" height="12.91" fill="#f23645"/>
<rect x="319.45" y="151.51" width="1.9" height="0.65" fill="#f23645"/>
<rect x="322.40" y="128.27" width="0.6" height="25.82" fill="#089981"/>
<rect x="321.75" y="129.56" width="1.9" height="22.59" fill="#089981"/>
<rect x="324.70" y="129.08" width="0.6" height="38.72" fill="#f23645"/>
<rect x="324.05" y="129.56" width="1.9" height="22.91" fill="#f23645"/>
<rect x="327.00" y="151.99" width="0.6" height="47.28" fill="#f23645"/>
<rect x="326.35" y="152.47" width="1.9" height="36.63" fill="#f23645"/>
<rect x="329.30" y="174.26" width="0.6" height="27.43" fill="#089981"/>
<rect x="328.65" y="183.78" width="1.9" height="5.32" fill="#089981"/>
<rect x="331.60" y="162.15" width="0.6" height="31.46" fill="#089981"/>
<rect x="330.95" y="180.71" width="1.9" height="3.07" fill="#089981"/>
<rect x="333.90" y="177.81" width="0.6" height="22.27" fill="#f23645"/>
<rect x="333.25" y="180.71" width="1.9" height="1.94" fill="#f23645"/>
<rect x="336.20" y="169.74" width="0.6" height="15.81" fill="#089981"/>
<rect x="335.55" y="176.84" width="1.9" height="5.81" fill="#089981"/>
<rect x="338.50" y="159.73" width="0.6" height="19.36" fill="#089981"/>
<rect x="337.85" y="160.70" width="1.9" height="16.14" fill="#089981"/>
<rect x="340.80" y="116.17" width="0.6" height="52.44" fill="#089981"/>
<rect x="340.15" y="121.82" width="1.9" height="38.89" fill="#089981"/>
<rect x="343.10" y="116.49" width="0.6" height="44.86" fill="#f23645"/>
<rect x="342.45" y="121.82" width="1.9" height="30.66" fill="#f23645"/>
<rect x="345.40" y="143.28" width="0.6" height="24.53" fill="#089981"/>
<rect x="344.75" y="146.02" width="1.9" height="6.45" fill="#089981"/>
<rect x="347.70" y="134.24" width="0.6" height="23.07" fill="#f23645"/>
<rect x="347.05" y="146.02" width="1.9" height="6.45" fill="#f23645"/>
<rect x="350.00" y="144.41" width="0.6" height="73.41" fill="#f23645"/>
<rect x="349.35" y="152.47" width="1.9" height="42.27" fill="#f23645"/>
<rect x="352.30" y="185.23" width="0.6" height="72.93" fill="#f23645"/>
<rect x="351.65" y="194.75" width="1.9" height="38.40" fill="#f23645"/>
<rect x="354.60" y="205.72" width="0.6" height="43.56" fill="#089981"/>
<rect x="353.95" y="208.62" width="1.9" height="24.53" fill="#089981"/>
<rect x="356.90" y="188.78" width="0.6" height="41.14" fill="#f23645"/>
<rect x="356.25" y="208.62" width="1.9" height="9.04" fill="#f23645"/>
<rect x="359.20" y="213.30" width="0.6" height="22.27" fill="#f23645"/>
<rect x="358.55" y="217.66" width="1.9" height="2.74" fill="#f23645"/>
<rect x="361.50" y="213.79" width="0.6" height="33.88" fill="#f23645"/>
<rect x="360.85" y="220.40" width="1.9" height="15.97" fill="#f23645"/>
<rect x="363.80" y="218.63" width="0.6" height="23.40" fill="#089981"/>
<rect x="363.15" y="223.31" width="1.9" height="13.07" fill="#089981"/>
<rect x="366.10" y="212.98" width="0.6" height="42.76" fill="#f23645"/>
<rect x="365.45" y="223.31" width="1.9" height="0.97" fill="#f23645"/>
<rect x="368.40" y="206.20" width="0.6" height="24.53" fill="#089981"/>
<rect x="367.75" y="208.62" width="1.9" height="15.65" fill="#089981"/>
<rect x="370.70" y="201.68" width="0.6" height="13.71" fill="#f23645"/>
<rect x="370.05" y="208.62" width="1.9" height="1.45" fill="#f23645"/>
<rect x="373.00" y="195.55" width="0.6" height="17.43" fill="#089981"/>
<rect x="372.35" y="201.52" width="1.9" height="8.55" fill="#089981"/>
<rect x="375.30" y="191.20" width="0.6" height="18.56" fill="#089981"/>
<rect x="374.65" y="198.62" width="1.9" height="2.90" fill="#089981"/>
<rect x="377.60" y="186.36" width="0.6" height="30.66" fill="#f23645"/>
<rect x="376.95" y="198.62" width="1.9" height="12.75" fill="#f23645"/>
<rect x="379.90" y="202.98" width="0.6" height="19.68" fill="#089981"/>
<rect x="379.25" y="208.78" width="1.9" height="2.58" fill="#089981"/>
<rect x="382.20" y="206.53" width="0.6" height="11.29" fill="#f23645"/>
<rect x="381.55" y="208.78" width="1.9" height="4.20" fill="#f23645"/>
<rect x="384.50" y="187.97" width="0.6" height="35.50" fill="#089981"/>
<rect x="383.85" y="193.13" width="1.9" height="19.85" fill="#089981"/>
<rect x="386.80" y="176.68" width="0.6" height="16.94" fill="#089981"/>
<rect x="386.15" y="191.52" width="1.9" height="1.61" fill="#089981"/>
<rect x="389.10" y="187.49" width="0.6" height="27.91" fill="#f23645"/>
<rect x="388.45" y="191.52" width="1.9" height="7.58" fill="#f23645"/>
<rect x="391.40" y="193.62" width="0.6" height="53.25" fill="#f23645"/>
<rect x="390.75" y="199.10" width="1.9" height="32.75" fill="#f23645"/>
<rect x="393.70" y="229.92" width="0.6" height="33.88" fill="#f23645"/>
<rect x="393.05" y="231.86" width="1.9" height="6.94" fill="#f23645"/>
<rect x="396.00" y="231.05" width="0.6" height="20.65" fill="#089981"/>
<rect x="395.35" y="236.05" width="1.9" height="2.74" fill="#089981"/>
<rect x="398.30" y="212.98" width="0.6" height="28.24" fill="#089981"/>
<rect x="397.65" y="217.34" width="1.9" height="18.72" fill="#089981"/>
<rect x="400.60" y="206.85" width="0.6" height="12.59" fill="#089981"/>
<rect x="399.95" y="215.08" width="1.9" height="2.26" fill="#089981"/>
<rect x="402.90" y="206.20" width="0.6" height="16.46" fill="#089981"/>
<rect x="402.25" y="211.85" width="1.9" height="3.23" fill="#089981"/>
<rect x="405.20" y="198.14" width="0.6" height="28.56" fill="#f23645"/>
<rect x="404.55" y="211.85" width="1.9" height="11.94" fill="#f23645"/>
<rect x="407.50" y="212.98" width="0.6" height="21.78" fill="#f23645"/>
<rect x="406.85" y="223.79" width="1.9" height="9.20" fill="#f23645"/>
<rect x="409.80" y="227.50" width="0.6" height="16.94" fill="#f23645"/>
<rect x="409.15" y="232.99" width="1.9" height="5.00" fill="#f23645"/>
<rect x="412.10" y="224.27" width="0.6" height="17.75" fill="#089981"/>
<rect x="411.45" y="228.15" width="1.9" height="9.84" fill="#089981"/>
<rect x="414.40" y="225.08" width="0.6" height="28.24" fill="#f23645"/>
<rect x="413.75" y="228.15" width="1.9" height="20.33" fill="#f23645"/>
<rect x="416.70" y="242.83" width="0.6" height="9.68" fill="#089981"/>
<rect x="416.05" y="248.15" width="1.9" height="0.60" fill="#089981"/>
<rect x="419.00" y="241.22" width="0.6" height="8.87" fill="#089981"/>
<rect x="418.35" y="245.25" width="1.9" height="2.90" fill="#089981"/>
<rect x="421.30" y="234.28" width="0.6" height="21.94" fill="#089981"/>
<rect x="420.65" y="242.02" width="1.9" height="3.23" fill="#089981"/>
<rect x="423.60" y="240.09" width="0.6" height="16.14" fill="#f23645"/>
<rect x="422.95" y="242.02" width="1.9" height="10.97" fill="#f23645"/>
<rect x="425.90" y="227.18" width="0.6" height="29.37" fill="#089981"/>
<rect x="425.25" y="227.99" width="1.9" height="25.01" fill="#089981"/>
<rect x="428.20" y="227.18" width="0.6" height="19.68" fill="#f23645"/>
<rect x="427.55" y="227.99" width="1.9" height="14.84" fill="#f23645"/>
<rect x="430.50" y="214.27" width="0.6" height="30.98" fill="#089981"/>
<rect x="429.85" y="218.95" width="1.9" height="23.88" fill="#089981"/>
<rect x="432.80" y="210.08" width="0.6" height="10.17" fill="#089981"/>
<rect x="432.15" y="214.27" width="1.9" height="4.68" fill="#089981"/>
<rect x="435.10" y="211.37" width="0.6" height="14.52" fill="#f23645"/>
<rect x="434.45" y="214.27" width="1.9" height="8.23" fill="#f23645"/>
<rect x="437.40" y="121.82" width="0.6" height="104.39" fill="#089981"/>
<rect x="436.75" y="127.30" width="1.9" height="95.20" fill="#089981"/>
<rect x="439.70" y="98.10" width="0.6" height="36.14" fill="#089981"/>
<rect x="439.05" y="106.49" width="1.9" height="20.81" fill="#089981"/>
<rect x="442.00" y="102.45" width="0.6" height="26.62" fill="#f23645"/>
<rect x="441.35" y="106.49" width="1.9" height="8.39" fill="#f23645"/>
<rect x="444.30" y="80.67" width="0.6" height="72.61" fill="#089981"/>
<rect x="443.65" y="108.10" width="1.9" height="6.78" fill="#089981"/>
<rect x="446.60" y="100.03" width="0.6" height="33.08" fill="#f23645"/>
<rect x="445.95" y="108.10" width="1.9" height="8.55" fill="#f23645"/>
<rect x="448.90" y="108.10" width="0.6" height="12.10" fill="#089981"/>
<rect x="448.25" y="112.94" width="1.9" height="3.71" fill="#089981"/>
<rect x="451.20" y="91.97" width="0.6" height="24.20" fill="#089981"/>
<rect x="450.55" y="100.68" width="1.9" height="12.26" fill="#089981"/>
<rect x="453.50" y="76.64" width="0.6" height="25.01" fill="#089981"/>
<rect x="452.85" y="90.03" width="1.9" height="10.65" fill="#089981"/>
<rect x="455.80" y="83.58" width="0.6" height="26.14" fill="#f23645"/>
<rect x="455.15" y="90.03" width="1.9" height="8.07" fill="#f23645"/>
<rect x="458.10" y="91.16" width="0.6" height="23.40" fill="#f23645"/>
<rect x="457.45" y="98.10" width="1.9" height="11.94" fill="#f23645"/>
<rect x="460.40" y="100.84" width="0.6" height="20.17" fill="#f23645"/>
<rect x="459.75" y="110.04" width="1.9" height="3.23" fill="#f23645"/>
<rect x="462.70" y="97.61" width="0.6" height="20.17" fill="#089981"/>
<rect x="462.05" y="111.01" width="1.9" height="2.26" fill="#089981"/>
<rect x="465.00" y="99.71" width="0.6" height="13.23" fill="#089981"/>
<rect x="464.35" y="102.45" width="1.9" height="8.55" fill="#089981"/>
<rect x="467.30" y="98.74" width="0.6" height="14.20" fill="#f23645"/>
<rect x="466.65" y="102.45" width="1.9" height="5.32" fill="#f23645"/>
<rect x="469.60" y="96.81" width="0.6" height="14.84" fill="#f23645"/>
<rect x="468.95" y="107.78" width="1.9" height="2.26" fill="#f23645"/>
<rect x="471.90" y="99.23" width="0.6" height="17.75" fill="#089981"/>
<rect x="471.25" y="102.94" width="1.9" height="7.10" fill="#089981"/>
<rect x="474.20" y="90.68" width="0.6" height="18.23" fill="#089981"/>
<rect x="473.55" y="94.23" width="1.9" height="8.71" fill="#089981"/>
<rect x="476.50" y="91.97" width="0.6" height="19.36" fill="#f23645"/>
<rect x="475.85" y="94.23" width="1.9" height="8.71" fill="#f23645"/>
<rect x="478.80" y="98.10" width="0.6" height="42.27" fill="#f23645"/>
<rect x="478.15" y="102.94" width="1.9" height="21.30" fill="#f23645"/>
<rect x="481.10" y="119.40" width="0.6" height="7.26" fill="#089981"/>
<rect x="480.45" y="123.91" width="1.9" height="0.60" fill="#089981"/>
<rect x="483.40" y="117.46" width="0.6" height="9.20" fill="#089981"/>
<rect x="482.75" y="120.04" width="1.9" height="3.87" fill="#089981"/>
<rect x="485.70" y="119.07" width="0.6" height="11.29" fill="#f23645"/>
<rect x="485.05" y="120.04" width="1.9" height="6.13" fill="#f23645"/>
<rect x="488.00" y="125.53" width="0.6" height="39.05" fill="#f23645"/>
<rect x="487.35" y="126.17" width="1.9" height="27.43" fill="#f23645"/>
<rect x="490.30" y="127.79" width="0.6" height="31.62" fill="#089981"/>
<rect x="489.65" y="143.60" width="1.9" height="10.00" fill="#089981"/>
<rect x="492.60" y="143.28" width="0.6" height="21.62" fill="#f23645"/>
<rect x="491.95" y="143.60" width="1.9" height="14.52" fill="#f23645"/>
<rect x="494.90" y="148.12" width="0.6" height="27.43" fill="#089981"/>
<rect x="494.25" y="156.18" width="1.9" height="1.94" fill="#089981"/>
<rect x="497.20" y="137.95" width="0.6" height="19.85" fill="#089981"/>
<rect x="496.55" y="142.63" width="1.9" height="13.55" fill="#089981"/>
<rect x="499.50" y="128.75" width="0.6" height="18.07" fill="#089981"/>
<rect x="498.85" y="133.60" width="1.9" height="9.04" fill="#089981"/>
<rect x="501.80" y="131.34" width="0.6" height="28.07" fill="#f23645"/>
<rect x="501.15" y="133.60" width="1.9" height="17.75" fill="#f23645"/>
<rect x="504.10" y="150.38" width="0.6" height="26.30" fill="#f23645"/>
<rect x="503.45" y="151.34" width="1.9" height="4.52" fill="#f23645"/>
<rect x="506.40" y="138.76" width="0.6" height="20.17" fill="#089981"/>
<rect x="505.75" y="143.60" width="1.9" height="12.26" fill="#089981"/>
<rect x="508.70" y="133.11" width="0.6" height="22.59" fill="#f23645"/>
<rect x="508.05" y="143.60" width="1.9" height="7.74" fill="#f23645"/>
<rect x="511.00" y="146.02" width="0.6" height="16.13" fill="#089981"/>
<rect x="510.35" y="150.38" width="1.9" height="0.97" fill="#089981"/>
<rect x="513.30" y="149.73" width="0.6" height="7.58" fill="#f23645"/>
<rect x="512.65" y="150.38" width="1.9" height="3.55" fill="#f23645"/>
<rect x="515.60" y="149.73" width="0.6" height="18.88" fill="#f23645"/>
<rect x="514.95" y="153.93" width="1.9" height="12.26" fill="#f23645"/>
<rect x="517.90" y="163.77" width="0.6" height="32.27" fill="#f23645"/>
<rect x="517.25" y="166.19" width="1.9" height="10.97" fill="#f23645"/>
<rect x="520.20" y="164.57" width="0.6" height="15.33" fill="#089981"/>
<rect x="519.55" y="170.22" width="1.9" height="6.94" fill="#089981"/>
<rect x="522.50" y="164.90" width="0.6" height="16.62" fill="#f23645"/>
<rect x="521.85" y="170.22" width="1.9" height="4.03" fill="#f23645"/>
<rect x="524.80" y="157.31" width="0.6" height="18.56" fill="#089981"/>
<rect x="524.15" y="161.35" width="1.9" height="12.91" fill="#089981"/>
<rect x="527.10" y="155.22" width="0.6" height="20.98" fill="#f23645"/>
<rect x="526.45" y="161.35" width="1.9" height="11.29" fill="#f23645"/>
<rect x="529.40" y="168.12" width="0.6" height="8.55" fill="#f23645"/>
<rect x="528.75" y="172.64" width="1.9" height="0.60" fill="#f23645"/>
<rect x="531.70" y="159.73" width="0.6" height="17.43" fill="#089981"/>
<rect x="531.05" y="163.28" width="1.9" height="9.68" fill="#089981"/>
<rect x="534.00" y="149.25" width="0.6" height="16.94" fill="#089981"/>
<rect x="533.35" y="162.64" width="1.9" height="0.65" fill="#089981"/>
<rect x="536.30" y="158.93" width="0.6" height="10.49" fill="#f23645"/>
<rect x="535.65" y="162.64" width="1.9" height="3.55" fill="#f23645"/>
<rect x="538.60" y="164.25" width="0.6" height="29.37" fill="#f23645"/>
<rect x="537.95" y="166.19" width="1.9" height="20.17" fill="#f23645"/>
<rect x="540.90" y="183.13" width="0.6" height="42.76" fill="#f23645"/>
<rect x="540.25" y="186.36" width="1.9" height="37.92" fill="#f23645"/>
<rect x="543.20" y="216.21" width="0.6" height="48.41" fill="#f23645"/>
<rect x="542.55" y="224.27" width="1.9" height="12.59" fill="#f23645"/>
<rect x="545.50" y="220.72" width="0.6" height="20.49" fill="#089981"/>
<rect x="544.85" y="223.31" width="1.9" height="13.55" fill="#089981"/>
<rect x="547.80" y="221.85" width="0.6" height="24.69" fill="#f23645"/>
<rect x="547.15" y="223.31" width="1.9" height="21.94" fill="#f23645"/>
<rect x="550.10" y="218.14" width="0.6" height="44.53" fill="#089981"/>
<rect x="549.45" y="230.73" width="1.9" height="14.52" fill="#089981"/>
<rect x="552.40" y="215.40" width="0.6" height="17.75" fill="#089981"/>
<rect x="551.75" y="223.31" width="1.9" height="7.42" fill="#089981"/>
<rect x="554.70" y="212.98" width="0.6" height="17.10" fill="#089981"/>
<rect x="554.05" y="215.08" width="1.9" height="8.23" fill="#089981"/>
</g>
<g font-size="7" fill="#2e313a">
<text x="811.2" y="446.21" textLength="27.6" lengthAdjust="spacingAndGlyphs">1,700.00</text>
<text x="811.2" y="430.07" textLength="27.6" lengthAdjust="spacingAndGlyphs">1,800.00</text>
<text x="811.2" y="413.94" textLength="27.6" lengthAdjust="spacingAndGlyphs">1,900.00</text>
<text x="811.2" y="397.80" textLength="27.6" lengthAdjust="spacingAndGlyphs">2,000.00</text>
<text x="811.2" y="381.67" textLength="27.6" lengthAdjust="spacingAndGlyphs">2,100.00</text>
<text x="811.2" y="365.53" textLength="27.6" lengthAdjust="spacingAndGlyphs">2,200.00</text>
<text x="811.2" y="349.40" textLength="27.6" lengthAdjust="spacingAndGlyphs">2,300.00</text>
<text x="811.2" y="333.26" textLength="27.6" lengthAdjust="spacingAndGlyphs">2,400.00</text>
<text x="811.2" y="317.13" textLength="27.6" lengthAdjust="spacingAndGlyphs">2,500.00</text>
<text x="811.2" y="301.00" textLength="27.6" lengthAdjust="spacingAndGlyphs">2,600.00</text>
<text x="811.2" y="284.86" textLength="27.6" lengthAdjust="spacingAndGlyphs">2,700.00</text>
<text x="811.2" y="268.72" textLength="27.6" lengthAdjust="spacingAndGlyphs">2,800.00</text>
<text x="811.2" y="252.59" textLength="27.6" lengthAdjust="spacingAndGlyphs">2,900.00</text>
<text x="811.2" y="236.45" textLength="27.6" lengthAdjust="spacingAndGlyphs">3,000.00</text>
<text x="811.2" y="220.32" textLength="27.6" lengthAdjust="spacingAndGlyphs">3,100.00</text>
<text x="811.2" y="204.18" textLength="27.6" lengthAdjust="spacingAndGlyphs">3,200.00</text>
<text x="811.2" y="188.05" textLength="27.6" lengthAdjust="spacingAndGlyphs">3,300.00</text>
<text x="811.2" y="171.91" textLength="27.6" lengthAdjust="spacingAndGlyphs">3,400.00</text>
<text x="811.2" y="155.78" textLength="27.6" lengthAdjust="spacingAndGlyphs">3,500.00</text>
<text x="811.2" y="139.64" textLength="27.6" lengthAdjust="spacingAndGlyphs">3,600.00</text>
<text x="811.2" y="123.51" textLength="27.6" lengthAdjust="spacingAndGlyphs">3,700.00</text>
<text x="811.2" y="107.38" textLength="27.6" lengthAdjust="spacingAndGlyphs">3,800.00</text>
<text x="811.2" y="91.24" textLength="27.6" lengthAdjust="spacingAndGlyphs">3,900.00</text>
<text x="811.2" y="75.11" textLength="27.6" lengthAdjust="spacingAndGlyphs">4,000.00</text>
<text x="811.2" y="58.97" textLength="27.6" lengthAdjust="spacingAndGlyphs">4,100.00</text>
<text x="811.2" y="42.83" textLength="27.6" lengthAdjust="spacingAndGlyphs">4,200.00</text>
<text x="811.2" y="26.70" textLength="27.6" lengthAdjust="spacingAndGlyphs">4,300.00</text>
</g>
<g font-size="7.15" fill="#33363f" text-anchor="end">
<text x="801.6" y="65.19">1 (4,064.56)</text>
<line x1="804.3" y1="62.19" x2="806.6" y2="62.19" stroke="#3c3f48" stroke-width="0.8"/>
<text x="801.6" y="97.95">0.786 (3,861.50)</text>
<line x1="804.3" y1="94.95" x2="806.6" y2="94.95" stroke="#3c3f48" stroke-width="0.8"/>
<text x="801.6" y="123.67">0.618 (3,702.09)</text>
<line x1="804.3" y1="120.67" x2="806.6" y2="120.67" stroke="#3c3f48" stroke-width="0.8"/>
<text x="801.6" y="159.80">0.382 (3,478.16)</text>
<line x1="804.3" y1="156.80" x2="806.6" y2="156.80" stroke="#3c3f48" stroke-width="0.8"/>
<text x="801.6" y="182.16">0.236 (3,339.62)</text>
<line x1="804.3" y1="179.16" x2="806.6" y2="179.16" stroke="#3c3f48" stroke-width="0.8"/>
<text x="801.6" y="218.29">0 (3,115.69)</text>
<line x1="804.3" y1="215.29" x2="806.6" y2="215.29" stroke="#3c3f48" stroke-width="0.8"/>
</g>
<g font-size="6.6" fill="#2e313a" text-anchor="middle">
<text x="44.40" y="457.2">Dec</text>
<text x="115.70" y="457.2" font-weight="bold">2024</text>
<text x="187.00" y="457.2">Feb</text>
<text x="253.70" y="457.2">Mar</text>
<text x="325.00" y="457.2">Apr</text>
<text x="394.00" y="457.2">May</text>
<text x="465.30" y="457.2">Jun</text>
<text x="534.30" y="457.2">Jul</text>
<text x="605.60" y="457.2">Aug</text>
<text x="676.90" y="457.2">Sep</text>
<text x="745.90" y="457.2">Oct</text>
</g>
<rect x="806.3" y="210.8" width="35.8" height="16.4" fill="#129a82"/>
<text x="811.2" y="218.1" font-size="7" fill="#fff" textLength="27.6" lengthAdjust="spacingAndGlyphs">3,116.83</text>
<text x="811.2" y="225.1" font-size="7" fill="#d8f0ea" textLength="27.6" lengthAdjust="spacingAndGlyphs">10:39:19</text>
<rect x="806.3" y="431" width="30.8" height="9" fill="#26a69a"/>
<text x="811.2" y="438" font-size="7" fill="#fff">34.54 K</text>
<text x="232.6" y="54.3" font-size="6.6" fill="#2e313a" text-anchor="middle" textLength="73" lengthAdjust="spacingAndGlyphs">1,830.50 (81.94%) 183,050</text>
<g font-size="8.2" font-weight="bold" font-style="italic" fill="#161616">
<text x="158.5" y="375.8" textLength="54" lengthAdjust="spacingAndGlyphs">double bottom</text>
<text x="468.4" y="262.3" textLength="54.2" lengthAdjust="spacingAndGlyphs">double bottom</text>
</g>
<text x="5.6" y="10.7" font-size="6.4" fill="#1c1f28" textLength="222" lengthAdjust="spacingAndGlyphs">BeInCrypto1 published on TradingView.com, Jul 10, 2024 18:50 UTC+5:30</text>
<g font-size="6.6" fill="#1c1f28">
<text x="10" y="24.9" textLength="111.6" lengthAdjust="spacingAndGlyphs">Ethereum / U.S. Dollar, 1D, COINBASE</text>
<text x="126" y="24.9">O</text><text x="162" y="24.9">H</text><text x="196" y="24.9">L</text><text x="230" y="24.9">C</text>
<text x="10" y="33.9" textLength="27" lengthAdjust="spacingAndGlyphs">Vol · ETH</text>
</g>
<g font-size="6.6" fill="#1fa58f">
<text x="131" y="24.9" textLength="27" lengthAdjust="spacingAndGlyphs">3,066.35</text>
<text x="166.6" y="24.9" textLength="25" lengthAdjust="spacingAndGlyphs">3,130.37</text>
<text x="199.6" y="24.9" textLength="26" lengthAdjust="spacingAndGlyphs">3,023.80</text>
<text x="234.4" y="24.9" textLength="24.2" lengthAdjust="spacingAndGlyphs">3,116.83</text>
<text x="263.6" y="24.9" textLength="49.6" lengthAdjust="spacingAndGlyphs">+50.32 (+1.64%)</text>
<text x="41" y="33.9" textLength="22" lengthAdjust="spacingAndGlyphs">34.54 K</text>
</g>
<g fill="#1e222d">
<path d="M5.35 467.8H9.3V472.8H7.1V469.9H5.35Z"/>
<circle cx="10.55" cy="468.85" r="0.95"/>
<path d="M12.5 467.8H15.75L13.35 472.8H10.1Z"/>
<text x="18.5" y="473.3" font-size="7.4" textLength="38.6" lengthAdjust="spacingAndGlyphs">TradingView</text>
</g>
</svg></body></html>
